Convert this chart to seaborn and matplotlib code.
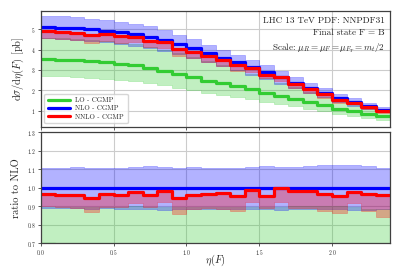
import numpy as np
import pandas as pd
import matplotlib
matplotlib.use("Agg")
import matplotlib.pyplot as plt
import seaborn as sns

# ---- data ----
edges = [round(0.1 * i, 1) for i in range(25)]
nlo = [5.10, 5.07, 5.03, 4.98, 4.92, 4.84, 4.74, 4.60, 4.45, 4.27, 4.05, 3.83,
       3.60, 3.38, 3.13, 2.90, 2.64, 2.37, 2.11, 1.87, 1.62, 1.43, 1.24, 1.05]
nlo_up_ratio = [1.106, 1.108, 1.110, 1.104, 1.106, 1.106, 1.110, 1.115, 1.110, 1.106, 1.110, 1.108,
                1.108, 1.108, 1.112, 1.115, 1.112, 1.112, 1.117, 1.123, 1.124, 1.121, 1.119, 1.106]
nlo_dn_ratio = [0.890, 0.888, 0.888, 0.886, 0.888, 0.887, 0.884, 0.886, 0.880, 0.886, 0.887, 0.887,
                0.886, 0.884, 0.882, 0.885, 0.880, 0.884, 0.882, 0.883, 0.885, 0.878, 0.878, 0.882]
nnlo_ratio = [0.966, 0.960, 0.960, 0.944, 0.968, 0.962, 0.977, 0.960, 0.984, 0.942, 0.962, 0.966,
              0.971, 0.953, 0.986, 0.953, 0.998, 0.984, 0.984, 0.964, 0.957, 0.977, 0.964, 0.959]
nnlo_dn_ratio = [0.899, 0.895, 0.892, 0.867, 0.895, 0.895, 0.917, 0.895, 0.920, 0.858, 0.885, 0.888,
                 0.882, 0.872, 0.925, 0.890, 0.925, 0.890, 0.890, 0.874, 0.863, 0.915, 0.874, 0.841]
lo = [3.54, 3.51, 3.47, 3.43, 3.39, 3.31, 3.22, 3.10, 2.95, 2.79, 2.63, 2.48,
      2.34, 2.21, 2.06, 1.89, 1.73, 1.60, 1.44, 1.27, 1.11, 0.97, 0.85, 0.72]
lo_up = [4.58, 4.55, 4.51, 4.46, 4.41, 4.34, 4.26, 4.13, 3.99, 3.82, 3.62, 3.42,
         3.22, 3.02, 2.81, 2.60, 2.37, 2.14, 1.90, 1.68, 1.46, 1.28, 1.10, 0.93]
lo_dn = [2.70, 2.68, 2.65, 2.62, 2.58, 2.52, 2.46, 2.37, 2.25, 2.13, 2.01, 1.89,
         1.79, 1.69, 1.57, 1.44, 1.32, 1.22, 1.10, 0.97, 0.85, 0.75, 0.66, 0.55]
labels = ["LO - CGMP", "NLO - CGMP", "NNLO - CGMP"]
info_lines = ["LHC 13 TeV PDF: NNPDF31", "Final state F = B",
              r"Scale: $\mu_R = \mu_F = \mu_{F_T} = m_t/2$"]

sns.set_theme(style="whitegrid")
plt.rcParams.update({
    "font.family": "serif",
    "font.serif": ["cmr10", "DejaVu Serif"],
    "mathtext.fontset": "cm",
    "axes.formatter.use_mathtext": True,
    "axes.edgecolor": "#404040",
    "axes.linewidth": 0.9,
    "grid.color": "#cccccc",
    "grid.linewidth": 0.8,
})

c_lo, c_nlo, c_nnlo = "#33cc33", "#0000ff", "#ff0000"
alpha = 0.3

def ext(a):
    a = list(a)
    return np.array(a + [a[-1]])

x = np.array(edges)
nlo_a = np.array(nlo)
nnlo_a = nlo_a * np.array(nnlo_ratio)

def df(vals):
    return pd.DataFrame({"x": x, "y": ext(vals)})

fig = plt.figure(figsize=(4.07, 2.71), dpi=100)
ax1 = fig.add_axes([0.100, 0.5325, 0.859, 0.428])
ax2 = fig.add_axes([0.100, 0.103, 0.859, 0.409])

# ---- top panel ----
ax1.fill_between(x, ext(lo_dn), ext(lo_up), step="post", color=c_lo, alpha=alpha, lw=0.5)
ax1.fill_between(x, ext(nlo_a * np.array(nlo_dn_ratio)), ext(nlo_a * np.array(nlo_up_ratio)),
                 step="post", color=c_nlo, alpha=alpha, lw=0.5)
ax1.fill_between(x, ext(nlo_a * np.array(nnlo_dn_ratio)), ext(nnlo_a), step="post",
                 color=c_nnlo, alpha=alpha, lw=0.5)
sns.lineplot(data=df(lo), x="x", y="y", ax=ax1, color=c_lo, lw=2.3, drawstyle="steps-post", label=labels[0])
sns.lineplot(data=df(nlo), x="x", y="y", ax=ax1, color=c_nlo, lw=2.3, drawstyle="steps-post", label=labels[1])
sns.lineplot(data=df(nnlo_a), x="x", y="y", ax=ax1, color=c_nnlo, lw=2.3, drawstyle="steps-post", label=labels[2])

ax1.set_xlim(0, 2.4)
ax1.set_ylim(0.22, 5.9)
ax1.set_xticks([0, 0.5, 1.0, 1.5, 2.0])
ax1.set_xticklabels([])
ax1.set_yticks([1, 2, 3, 4, 5])
ax1.set_xlabel("")
ax1.set_ylabel(r"$\mathrm{d}\sigma/\mathrm{d}\eta(F)$ [pb]", fontsize=7.5)
leg = ax1.legend(loc="lower left", fontsize=5, frameon=True, handlelength=3.2,
                 borderpad=0.5, labelspacing=0.35)
leg.get_frame().set_edgecolor("#cccccc")
for i, t in enumerate(info_lines):
    ax1.text(0.985, 0.95 - i * 0.105, t, transform=ax1.transAxes, ha="right", va="top",
             fontsize=6.6)

# ---- ratio panel ----
r_x = x
ax2.fill_between(r_x, ext(np.array(lo_dn) / nlo_a), ext(np.array(lo_up) / nlo_a), step="post",
                 color=c_lo, alpha=alpha, lw=0.5)
ax2.fill_between(r_x, ext(nlo_dn_ratio), ext(nlo_up_ratio), step="post", color=c_nlo,
                 alpha=alpha, lw=0.5)
ax2.fill_between(r_x, ext(nnlo_dn_ratio), ext(nnlo_ratio), step="post", color=c_nnlo,
                 alpha=alpha, lw=0.5)
sns.lineplot(data=df(np.array(lo) / nlo_a), x="x", y="y", ax=ax2, color=c_lo, lw=2.3,
             drawstyle="steps-post")
sns.lineplot(data=df(nlo_a / nlo_a), x="x", y="y", ax=ax2, color=c_nlo, lw=2.3,
             drawstyle="steps-post")
sns.lineplot(data=df(nnlo_ratio), x="x", y="y", ax=ax2, color=c_nnlo, lw=2.3,
             drawstyle="steps-post")
ax2.set_xlim(0, 2.4)
ax2.set_ylim(0.7, 1.3)
ax2.set_xticks([0, 0.5, 1.0, 1.5, 2.0])
ax2.set_yticks([0.7, 0.8, 0.9, 1.0, 1.1, 1.2, 1.3])
ax2.set_xlabel(r"$\eta(F)$", fontsize=7.5, va="top")
ax2.xaxis.set_label_coords(0.5, -0.085)
ax2.set_ylabel("ratio to NLO", fontsize=7.5)

for ax in (ax1, ax2):
    ax.tick_params(axis="both", which="both", labelsize=4, length=2, width=0.6,
                   color="#404040", pad=1.5, bottom=True, left=True)

fig.savefig("out.png", dpi=100)
